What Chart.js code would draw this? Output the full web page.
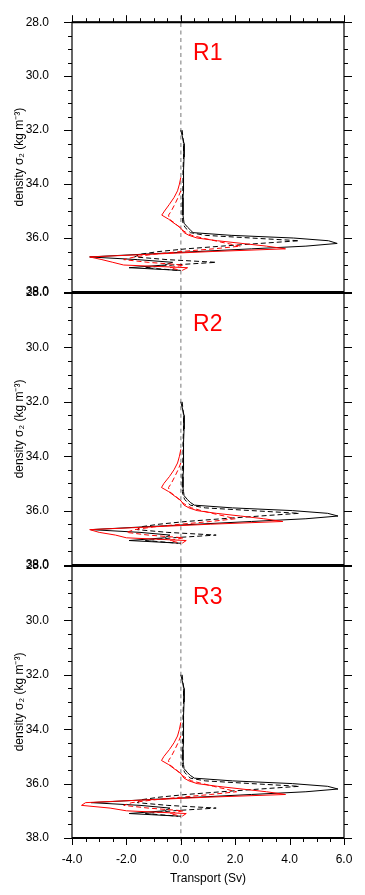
<!DOCTYPE html>
<html>
<head>
<meta charset="utf-8">
<script src="https://cdn.jsdelivr.net/npm/chart.js@4.4.1/dist/chart.umd.min.js"></script>
<style>
  body { margin: 0; background: #fff; }
  #wrap { position: relative; width: 365px; height: 895px; }
  #wrap canvas { position: absolute; left: 0; top: 0; }
</style>
</head>
<body>
<div id="wrap">
  <canvas id="r1" width="365" height="895"></canvas>
  <canvas id="r2" width="365" height="895"></canvas>
  <canvas id="r3" width="365" height="895"></canvas>
</div>
<script>
// density classes (sigma_2, kg m-3) shared by every profile
const density = [32.0, 32.5, 33.0, 33.5, 33.75, 34.0, 34.25, 34.5, 34.75, 35.0,
                 35.15, 35.3, 35.45, 35.6, 35.7, 35.8, 35.9, 36.0, 36.1, 36.2,
                 36.3, 36.4, 36.5, 36.6, 36.7, 36.8, 36.9, 37.0, 37.1, 37.2];

// transport (Sv) per density class
const r1BlackSolid = [0.0, 0.12, 0.12, 0.1, 0.1, 0.1, 0.1, 0.08, 0.08, 0.08,
                      0.08, 0.1, 0.12, 0.25, 0.35, 0.45, 1.85, 4.15, 5.43, 5.75,
                      4.6, 2.6, 0.6, -1.4, -3.35, -1.6, -0.3, -0.6, -1.9, 0.0];
const r1BlackDash  = [0.05, 0.1, 0.1, 0.08, 0.08, 0.08, 0.07, 0.06, 0.05, 0.05,
                      0.05, 0.06, 0.08, 0.15, 0.25, 0.35, 0.9, 2.6, 4.35, 2.9,
                      1.5, 0.2, -0.8, -1.5, -1.7, -0.5, 1.3, -0.3, -1.3, -0.1];
const r1RedSolid   = [null, null, null, null, 0.0, -0.05, -0.12, -0.25, -0.42, -0.6,
                      -0.7, -0.45, -0.25, -0.03, 0.05, 0.12, 0.3, 0.6, 1.35, 2.25,
                      3.15, 3.85, 1.15, -1.1, -3.35, -2.9, -2.5, -2.1, 0.25, 0.05];
const r1RedDash    = [null, null, null, null, null, null, 0.0, -0.1, -0.22, -0.35,
                      -0.45, -0.42, -0.22, -0.05, 0.05, 0.2, 0.4, 0.8, 1.25, 1.7,
                      2.2, 1.2, 0.0, -1.0, -1.7, -2.1, -1.2, 0.1, -0.4, 0.0];

const r2BlackSolid = [0.0, 0.12, 0.12, 0.1, 0.1, 0.1, 0.1, 0.1, 0.08, 0.08,
                      0.08, 0.1, 0.12, 0.25, 0.35, 0.5, 1.9, 4.1, 5.4, 5.78,
                      4.6, 2.6, 0.6, -1.4, -3.3, -1.5, -0.4, -0.6, -1.9, 0.0];
const r2BlackDash  = [0.05, 0.1, 0.1, 0.08, 0.08, 0.08, 0.07, 0.06, 0.05, 0.05,
                      0.05, 0.06, 0.08, 0.15, 0.25, 0.35, 0.9, 2.6, 4.35, 2.9,
                      1.5, 0.2, -0.8, -1.5, -1.6, -0.5, 1.3, -0.3, -1.3, -0.1];
const r2RedSolid   = [null, null, null, null, 0.0, -0.05, -0.12, -0.25, -0.42, -0.62,
                      -0.71, -0.45, -0.25, -0.03, 0.05, 0.12, 0.3, 0.6, 1.3, 2.2,
                      3.05, 3.75, 1.1, -1.1, -3.35, -3.0, -2.4, -2.0, 0.2, 0.05];
const r2RedDash    = [null, null, null, null, null, null, 0.0, -0.1, -0.22, -0.35,
                      -0.45, -0.42, -0.22, -0.05, 0.05, 0.2, 0.4, 0.75, 1.15, 1.6,
                      2.0, 1.1, 0.0, -1.0, -1.7, -2.0, -1.2, 0.1, -0.4, 0.0];

const r3BlackSolid = [0.0, 0.12, 0.12, 0.1, 0.1, 0.1, 0.1, 0.1, 0.08, 0.08,
                      0.08, 0.1, 0.12, 0.25, 0.35, 0.5, 1.9, 4.1, 5.4, 5.78,
                      4.6, 2.6, 0.6, -1.4, -3.3, -1.5, -0.4, -0.6, -1.9, 0.0];
const r3BlackDash  = [0.05, 0.1, 0.1, 0.08, 0.08, 0.08, 0.07, 0.06, 0.05, 0.05,
                      0.05, 0.06, 0.08, 0.15, 0.25, 0.35, 0.9, 2.6, 4.35, 2.9,
                      1.5, 0.2, -0.8, -1.5, -1.6, -0.5, 1.3, -0.3, -1.3, -0.1];
const r3RedSolid   = [null, null, null, null, 0.0, -0.05, -0.12, -0.25, -0.42, -0.62,
                      -0.71, -0.45, -0.25, -0.03, 0.05, 0.12, 0.3, 0.6, 1.35, 2.25,
                      3.15, 3.85, 1.0, -1.3, -3.5, -3.65, -2.6, -2.0, 0.2, 0.05];
const r3RedDash    = [null, null, null, null, null, null, 0.0, -0.1, -0.22, -0.35,
                      -0.45, -0.42, -0.22, -0.05, 0.05, 0.2, 0.4, 0.8, 1.2, 1.65,
                      2.05, 1.1, 0.0, -1.0, -1.8, -2.1, -1.2, 0.1, -0.4, 0.0];

// dotted zero line
const zeroX = [0, 0];
const zeroDensity = [27.75, 38.25];

const panelNames = ['R1', 'R2', 'R3'];
const panelTops = [20, 293, 566];   // chart-area top of each panel
const panelHeight = 272;
const FONT = '"Liberation Sans", Arial, Helvetica, sans-serif';

function profile(vals) {
  return density.map((d, i) => ({ x: vals[i], y: d })).filter(p => p.x !== null);
}

// frame, outward ticks and panel label
const framePlugin = {
  id: 'frame',
  afterDatasetsDraw(chart, args, opts) {
    const { ctx, chartArea: a, scales: { x, y } } = chart;
    ctx.save();
    ctx.strokeStyle = '#000';
    ctx.lineWidth = 1;
    ctx.beginPath();
    for (let i = 0; i <= 20; i++) {
      const py = Math.round(y.getPixelForValue(28 + i * 0.5)) + 0.5;
      const len = i % 4 === 0 ? 8 : 4;
      ctx.moveTo(a.left - len, py); ctx.lineTo(a.left, py);
      ctx.moveTo(a.right, py); ctx.lineTo(a.right + len, py);
    }
    for (let i = 0; i <= 20; i++) {
      const px = Math.round(x.getPixelForValue(-4 + i * 0.5)) + 0.5;
      const len = i % 4 === 0 ? 7 : 4;
      if (opts.top) { ctx.moveTo(px, a.top - len); ctx.lineTo(px, a.top); }
      if (opts.bottom) { ctx.moveTo(px, a.bottom); ctx.lineTo(px, a.bottom + len); }
    }
    ctx.stroke();
    ctx.lineWidth = 1.2;
    ctx.strokeRect(a.left, a.top, a.right - a.left, a.bottom - a.top);
    ctx.lineWidth = 2;
    ctx.beginPath();
    ctx.moveTo(a.left, a.top); ctx.lineTo(a.right, a.top);
    ctx.moveTo(a.left, a.bottom); ctx.lineTo(a.right, a.bottom);
    ctx.stroke();
    ctx.fillStyle = '#ff0000';
    ctx.font = '23px ' + FONT;
    ctx.textAlign = 'left';
    ctx.textBaseline = 'alphabetic';
    ctx.fillText(opts.label, x.getPixelForValue(0.45), y.getPixelForValue(29.4));
    ctx.restore();
  }
};

function makePanel(id, k, blackSolid, blackDash, redSolid, redDash) {
  const last = k === 2;
  const top = panelTops[k];
  const bottomEdge = top + panelHeight;
  const xHeight = 52;
  new Chart(document.getElementById(id), {
    type: 'scatter',
    data: {
      datasets: [
        { data: profile(redSolid), borderColor: '#ff0000', borderWidth: 1 },
        { data: profile(redDash), borderColor: '#ff0000', borderWidth: 1, borderDash: [5, 3] },
        { data: profile(blackSolid), borderColor: '#000', borderWidth: 1 },
        { data: profile(blackDash), borderColor: '#000', borderWidth: 1, borderDash: [5, 3] },
        { data: zeroX.map((v, i) => ({ x: v, y: zeroDensity[i] })), borderColor: '#aaaaaa',
          borderWidth: 1.6, borderDash: [4, 3.5], clip: false }
      ].map(ds => Object.assign({ showLine: true, pointRadius: 0, tension: 0, fill: false }, ds))
    },
    options: {
      responsive: false,
      animation: false,
      events: [],
      layout: {
        padding: {
          left: 0, right: 21, top: top,
          bottom: last ? 895 - bottomEdge - xHeight : 895 - bottomEdge
        }
      },
      plugins: {
        legend: { display: false },
        tooltip: { enabled: false },
        frame: { label: panelNames[k], top: k === 0, bottom: last }
      },
      scales: {
        x: {
          type: 'linear', min: -4, max: 6, display: last,
          grid: { display: false }, border: { display: false },
          ticks: { stepSize: 2, padding: 6, maxRotation: 0, color: '#000',
                   font: { family: FONT, size: 12 }, callback: v => v.toFixed(1) },
          title: { display: true, text: 'Transport (Sv)', color: '#000', padding: { top: 4 },
                   font: { family: FONT, size: 12 } },
          afterFit: s => { if (last) s.height = xHeight; }
        },
        y: {
          type: 'linear', reverse: true, min: 28, max: 38,
          grid: { display: false }, border: { display: false },
          ticks: { stepSize: 2, padding: 15, color: '#000', autoSkip: false,
                   font: { family: FONT, size: 12 }, callback: v => v.toFixed(1) },
          title: { display: true, text: 'density \u03C3\u2082 (kg m\u207B\u00B3)', color: '#000',
                   padding: { top: 12 }, font: { family: FONT, size: 12 } },
          afterFit: s => { s.width = 72; }
        }
      }
    },
    plugins: [framePlugin]
  });
}

makePanel('r1', 0, r1BlackSolid, r1BlackDash, r1RedSolid, r1RedDash);
makePanel('r2', 1, r2BlackSolid, r2BlackDash, r2RedSolid, r2RedDash);
makePanel('r3', 2, r3BlackSolid, r3BlackDash, r3RedSolid, r3RedDash);
</script>
</body>
</html>
